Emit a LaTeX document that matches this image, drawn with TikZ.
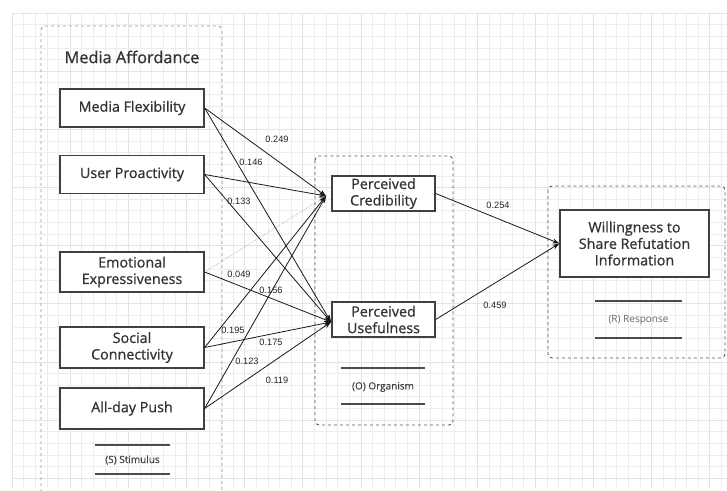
\documentclass[tikz,border=0pt]{standalone}
\usepackage{fontspec}
\setmainfont{Open Sans}
\newfontfamily\nodefont[FakeBold=0.8]{Open Sans}
\newfontfamily\tagfont[FakeBold=0.4]{Open Sans}
\newfontfamily\arialfont{Liberation Sans}
\usetikzlibrary{arrows.meta}
\begin{document}
\begin{tikzpicture}[x=1pt,y=-1pt,
  box/.style={draw=black!75, line width=1.3pt, fill=white, minimum width=144pt, minimum height=38pt,
    font=\nodefont\fontsize{14.3}{16.5}\selectfont, text=black!80, align=center, inner sep=0pt},
  obox/.style={box, minimum width=103pt, minimum height=35pt},
  group/.style={draw=black!65, dashed, line width=0.9pt, rounded corners=4pt},
  lgroup/.style={draw=black!40, dashed, line width=0.9pt, rounded corners=4pt},
  arr/.style={-{Stealth[length=7pt,width=5pt]}, line width=0.8pt, draw=black!90},
  dotarr/.style={-{Stealth[length=7pt,width=5pt]}, line width=0.5pt, draw=black!45, densely dotted},
  coef/.style={font=\arialfont\fontsize{9.2}{11}\selectfont, text=black!85, inner sep=0pt},
  bar/.style={draw=black!70, line width=1.2pt},
  tag/.style={font=\tagfont\fontsize{10}{12}\selectfont, text=black!75, inner sep=0pt},
  minorgrid/.style={draw=black!7, line width=0.6pt},
  majorgrid/.style={draw=black!11, line width=0.8pt}]
\useasboundingbox[fill=white] (0,0) rectangle (727,490);
% grid
\foreach \i in {0,...,61} {
  \pgfmathsetmacro{\xx}{12+11.63*\i}
  \pgfmathtruncatemacro{\m}{mod(\i,5)}
  \ifnum\m=0 \draw[majorgrid] (\xx,13) -- (\xx,488); \else \draw[minorgrid] (\xx,13) -- (\xx,488); \fi
}
\foreach \j in {0,...,40} {
  \pgfmathsetmacro{\yy}{13+11.63*\j}
  \pgfmathtruncatemacro{\m}{mod(\j,5)}
  \ifnum\m=0 \draw[majorgrid] (12,\yy) -- (727,\yy); \else \draw[minorgrid] (12,\yy) -- (727,\yy); \fi
}
% group boxes
\draw[lgroup] (41,492) -- (41,26) -- (222,26) -- (222,492);
\draw[group] (315,156) rectangle (453,425);
\draw[group] (548,186) rectangle (725,358);
% title
\node[font=\nodefont\fontsize{16.3}{19}\selectfont, text=black!80, inner sep=0pt] (title) at (132,57) {Media Affordance};
% stimulus nodes
\node[box] (mf) at (132,108) {Media Flexibility};
\node[box] (up) at (132,174.5) {User Proactivity};
\node[box, minimum height=40pt] (ee) at (132,272) {Emotional\\Expressiveness};
\node[box, minimum height=41pt] (sc) at (132,347.5) {Social\\Connectivity};
\node[box, minimum height=41pt] (ap) at (132,408.5) {All-day Push};
% organism nodes
\node[obox] (pc) at (383.5,193.5) {Perceived\\Credibility};
\node[obox] (pu) at (383.5,319.5) {Perceived\\Usefulness};
% response node
\node[box, minimum width=149pt, minimum height=67pt] (wi) at (634.5,243.5) {Willingness to\\Share Refutation\\Information};
% tags
\draw[bar] (95,445) -- (170,445);
\draw[bar] (95,474) -- (170,474);
\node[tag] (stim) at (132.5,460) {(S) Stimulus};
\draw[bar] (341,368) -- (425,368);
\draw[bar] (341,404) -- (425,404);
\node[tag] (org) at (383,387) {(O) Organism};
\draw[bar] (595,301) -- (682,301);
\draw[bar] (595,338) -- (682,338);
\node[tag, font=\fontsize{10}{12}\selectfont, text=black!60] (resp) at (638.5,320) {(R) Response};
% arrow targets
\coordinate (pcin) at (326,196);
\coordinate (puin) at (331,322);
% arrows
\draw[arr] (mf.east) -- (pcin);
\draw[arr] (mf.east) -- (puin);
\draw[arr] (up.east) -- (pcin);
\draw[arr] (up.east) -- (puin);
\draw[dotarr] (ee.east) -- (pcin);
\draw[arr] (ee.east) -- (puin);
\draw[arr] (sc.east) -- (pcin);
\draw[arr] (sc.east) -- (puin);
\draw[arr] (ap.east) -- (pcin);
\draw[arr] (ap.east) -- (puin);
\draw[arr] (pc.east) -- (wi.west);
\draw[arr] (pu.east) -- (wi.west);
% coefficients
\node[coef] (c1) at (277,139) {0.249};
\node[coef] (c2) at (251,162) {0.146};
\node[coef] (c3) at (239,201) {0.133};
\node[coef] (c4) at (239,274) {0.049};
\node[coef] (c5) at (271,290) {0.156};
\node[coef] (c6) at (233,330) {0.195};
\node[coef] (c7) at (271,342) {0.175};
\node[coef] (c8) at (247,361) {0.123};
\node[coef] (c9) at (277,380) {0.119};
\node[coef] (c10) at (498,205) {0.254};
\node[coef] (c11) at (495,305) {0.459};
\end{tikzpicture}
\end{document}
